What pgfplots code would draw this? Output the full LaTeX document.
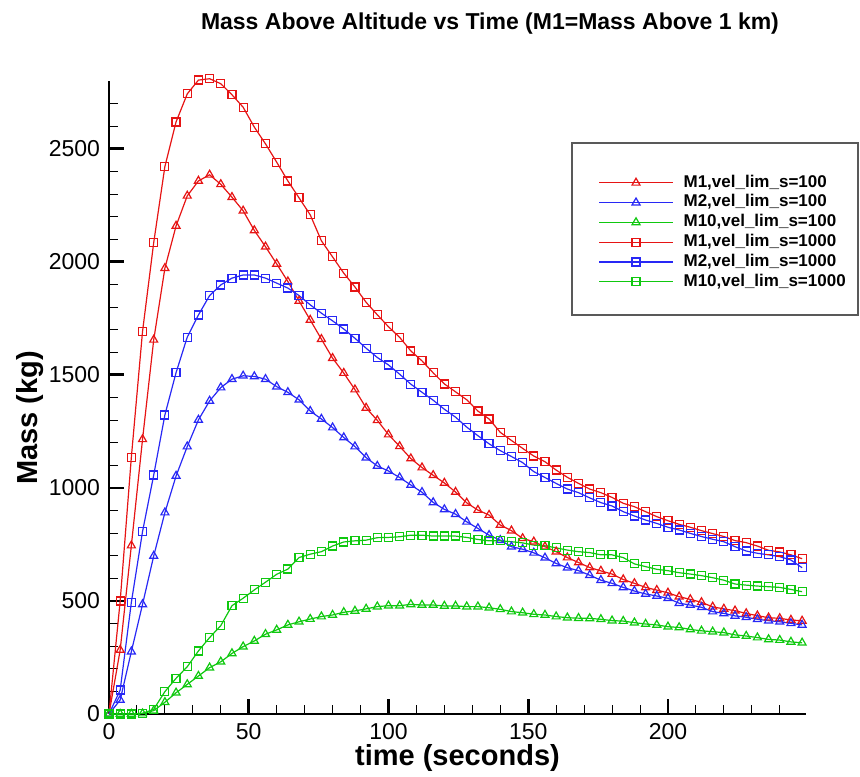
\documentclass[border=0pt]{standalone}
\usepackage{pgfplots}
\pgfplotsset{compat=1.18}
\usepackage{pgfplotstable}
\usepackage{fontspec}
\setmainfont{Liberation Sans}
\definecolor{cr}{RGB}{230,20,20}
\definecolor{cb}{RGB}{40,40,245}
\definecolor{cg}{RGB}{15,200,15}
\pgfplotstableread{
t rt bt gt rs bs gs
0 0 0 0 0 0 0
4 283 62 0 500 106 0
8 745 276 0 1136 494 0
12 1215 485 2 1692 807 3
16 1655 699 15 2085 1057 21
20 1972 891 52 2422 1323 99
24 2159 1053 94 2619 1510 158
28 2292 1183 131 2743 1667 209
32 2358 1301 168 2804 1765 279
36 2385 1385 205 2810 1851 338
40 2343 1444 231 2788 1898 391
44 2286 1481 268 2739 1928 479
48 2226 1496 298 2684 1942 512
52 2139 1493 323 2596 1942 549
56 2067 1481 353 2522 1928 583
60 1991 1448 372 2441 1906 618
64 1913 1423 394 2358 1884 641
68 1827 1390 408 2283 1851 692
72 1743 1340 420 2208 1810 707
76 1658 1305 431 2093 1773 718
80 1574 1267 438 2022 1739 743
84 1508 1223 450 1950 1703 761
88 1435 1183 456 1889 1662 766
92 1354 1134 465 1821 1618 769
96 1299 1097 475 1766 1577 780
100 1236 1075 479 1713 1544 781
104 1184 1046 479 1666 1503 784
108 1130 1013 485 1606 1459 791
112 1090 981 482 1562 1423 791
116 1056 936 482 1509 1388 787
120 1022 905 478 1460 1348 787
124 982 884 478 1425 1313 787
128 934 850 475 1390 1269 781
132 902 821 475 1340 1231 772
136 880 791 470 1305 1195 766
140 836 769 463 1246 1165 766
144 811 740 453 1210 1139 762
148 777 729 448 1175 1112 757
152 762 713 441 1141 1072 747
156 740 691 438 1116 1046 744
160 718 666 431 1079 1020 735
164 692 647 426 1047 995 725
168 670 634 424 1020 979 718
172 648 614 423 995 956 714
176 633 592 419 979 935 704
180 619 578 413 958 920 704
184 595 560 411 932 895 692
188 578 544 404 917 876 664
192 560 531 398 895 858 652
196 548 522 394 873 843 640
200 536 512 386 855 826 634
204 519 490 383 839 814 625
208 507 482 374 826 799 619
212 494 472 368 811 785 612
216 474 453 364 798 773 603
220 465 445 360 785 762 592
224 457 434 350 767 740 575
228 445 428 345 758 721 570
232 435 419 338 743 711 566
236 426 413 330 724 704 563
240 423 408 327 717 696 560
244 416 401 319 704 681 551
248 412 394 315 687 647 541
}\datatable
\pgfplotsset{
  rtri/.style={color=cr, line width=0.6pt, mark=triangle, mark size=2.3pt, mark options={solid}},
  btri/.style={color=cb, line width=0.6pt, mark=triangle, mark size=2.3pt, mark options={solid}},
  gtri/.style={color=cg, line width=0.6pt, mark=triangle, mark size=2.3pt, mark options={solid}},
  rsq/.style={color=cr, line width=0.6pt, mark=square, mark size=2pt, mark options={solid}},
  bsq/.style={color=cb, line width=0.6pt, mark=square, mark size=2pt, mark options={solid}},
  gsq/.style={color=cg, line width=0.6pt, mark=square, mark size=2pt, mark options={solid}},
}
\begin{document}
\begin{tikzpicture}
\useasboundingbox (0,0) rectangle (430pt,388pt);
\begin{axis}[
  at={(54.5pt,31pt)}, anchor=south west,
  scale only axis, width=348.5pt, height=316.5pt,
  xmin=0, xmax=249.4, ymin=0, ymax=2800,
  clip=false,
  axis lines*=left,
  axis line style={line width=1.4pt},
  tick align=inside,
  xtick={0,50,100,150,200},
  ytick={0,500,1000,1500,2000,2500},
  minor xtick={10,20,30,40,60,70,80,90,110,120,130,140,160,170,180,190,210,220,230,240},
  minor ytick={100,200,300,400,600,700,800,900,1100,1200,1300,1400,1600,1700,1800,1900,2100,2200,2300,2400,2600,2700},
  major tick length=7.5pt, minor tick length=4.5pt,
  major tick style={line width=1.4pt, black},
  minor tick style={line width=0.5pt, black},
  tick label style={font=\fontsize{11.5}{13}\selectfont},
  /pgf/number format/assume math mode=true,
  /pgf/number format/1000 sep={},
  xticklabel style={yshift=-1pt},
  yticklabel style={xshift=-1pt},
  xlabel={\bfseries time (seconds)},
  xlabel style={font=\fontsize{14.5}{16}\selectfont, at={(rel axis cs:0.5,-0.0821)}, anchor=base},
  ylabel={\bfseries Mass (kg)},
  ylabel style={font=\fontsize{14.5}{16}\selectfont, at={(rel axis cs:-0.1133,0.4676)}, anchor=center},
  title={\bfseries Mass Above Altitude vs Time (M1=Mass Above 1 km)},
  title style={font=\fontsize{11.5}{13}\selectfont, at={(rel axis cs:0.5466,1.0617)}, anchor=base},
  legend style={at={(rel axis cs:0.7016,0.8529)}, anchor=north west, draw=none, fill=none,
    inner sep=0pt, row sep=1.6pt, column sep=5pt,
    font=\fontsize{8.5}{9}\selectfont\bfseries,
    nodes={inner sep=0pt, text height=6.3pt, text depth=2pt}},
  legend cell align=left,
  legend image code/.code={\draw[mark repeat=2,mark phase=2,#1] plot coordinates {(0pt,0pt) (18.5pt,0pt) (37pt,0pt)};},
]
\addlegendimage{rtri}\addlegendentry{M1,vel\_lim\_s=100}
\addlegendimage{btri}\addlegendentry{M2,vel\_lim\_s=100}
\addlegendimage{gtri}\addlegendentry{M10,vel\_lim\_s=100}
\addlegendimage{rsq}\addlegendentry{M1,vel\_lim\_s=1000}
\addlegendimage{bsq}\addlegendentry{M2,vel\_lim\_s=1000}
\addlegendimage{gsq}\addlegendentry{M10,vel\_lim\_s=1000}
\addplot[rtri, forget plot] table[x=t,y=rt]{\datatable};
\addplot[btri, forget plot] table[x=t,y=bt]{\datatable};
\addplot[gtri, forget plot] table[x=t,y=gt]{\datatable};
\addplot[rsq, forget plot] table[x=t,y=rs]{\datatable};
\addplot[bsq, forget plot] table[x=t,y=bs]{\datatable};
\addplot[gsq, forget plot] table[x=t,y=gs]{\datatable};
\end{axis}
\draw[black!65, line width=0.9pt] (286pt,230.5pt) rectangle (429pt,316.5pt);
\end{tikzpicture}
\end{document}
